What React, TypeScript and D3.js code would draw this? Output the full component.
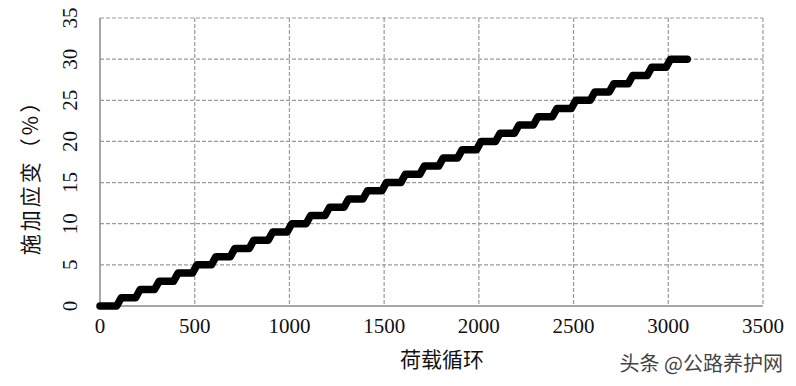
import React from "react";
import * as d3 from "d3";

const stepStartCycles = [0, 100, 200, 300, 400, 500, 600, 700, 800, 900, 1000, 1100, 1200, 1300, 1400, 1500, 1600, 1700, 1800, 1900, 2000, 2100, 2200, 2300, 2400, 2500, 2600, 2700, 2800, 2900, 3000];
const strainLevels = [0, 1, 2, 3, 4, 5, 6, 7, 8, 9, 10, 11, 12, 13, 14, 15, 16, 17, 18, 19, 20, 21, 22, 23, 24, 25, 26, 27, 28, 29, 30];
const lastCycle = 3100;
const xTicks = [0, 500, 1000, 1500, 2000, 2500, 3000, 3500];
const yTicks = [0, 5, 10, 15, 20, 25, 30, 35];

const serif = "'Liberation Serif'";
const cjk = "'Noto Sans CJK SC'";

export default function App() {
  const W = 796, H = 386;
  const m = { l: 100, r: 763, t: 18, b: 306 };
  const x = d3.scaleLinear().domain([0, 3500]).range([m.l, m.r]);
  const y = d3.scaleLinear().domain([0, 35]).range([m.b, m.t]);
  const ramp = 12;
  const pts: [number, number][] = [];
  stepStartCycles.forEach((c, i) => {
    const v = strainLevels[i];
    const end = i < stepStartCycles.length - 1 ? stepStartCycles[i + 1] : lastCycle;
    pts.push([i === 0 ? c : c + ramp, v]);
    pts.push([i < stepStartCycles.length - 1 ? end - ramp : end, v]);
  });
  const line = d3.line<[number, number]>().x(d => x(d[0])).y(d => y(d[1]));
  const grid = "#9a9a9a";
  return (
    <svg width={W} height={H} style={{ position: "absolute", left: 0, top: 0, background: "#fff" }}>
      <rect x={0} y={0} width={W} height={H} fill="#fff" />
      {xTicks.slice(1).map(t => (
        <line key={"gx" + t} x1={x(t)} x2={x(t)} y1={m.t} y2={m.b} stroke={grid} strokeWidth={1.2} strokeDasharray="4,2" />
      ))}
      {yTicks.slice(1).map(t => (
        <line key={"gy" + t} x1={m.l} x2={m.r} y1={y(t)} y2={y(t)} stroke={grid} strokeWidth={1.2} strokeDasharray="4,2" />
      ))}
      <line x1={m.l} x2={m.l} y1={m.t} y2={m.b} stroke="#8a8a8a" strokeWidth={1.5} />
      <line x1={m.l} x2={m.r} y1={m.b} y2={m.b} stroke="#8a8a8a" strokeWidth={1.5} />
      <path d={line(pts) || ""} fill="none" stroke="#000" strokeWidth={7.5} strokeLinejoin="round" strokeLinecap="round" />
      {xTicks.map(t => (
        <text key={"tx" + t} x={x(t)} y={333} textAnchor="middle" style={{ fontFamily: serif }} fontSize={21} fill="#111">{t}</text>
      ))}
      {yTicks.map(t => (
        <text key={"ty" + t} transform={`translate(77,${y(t)}) rotate(-90)`} textAnchor="middle" style={{ fontFamily: serif }} fontSize={21} fill="#111">{t}</text>
      ))}
      <text transform="translate(38,172) rotate(-90)" textAnchor="middle" style={{ fontFamily: cjk, letterSpacing: "3px" }} fontSize={21} fill="#111">施加应变（%）</text>
      <text x={442} y={367} textAnchor="middle" style={{ fontFamily: cjk }} fontSize={21} fill="#111">荷载循环</text>
      <text x={783} y={371} textAnchor="end" style={{ fontFamily: cjk }} fontSize={20} fill="#444">头条 @公路养护网</text>
    </svg>
  );
}
